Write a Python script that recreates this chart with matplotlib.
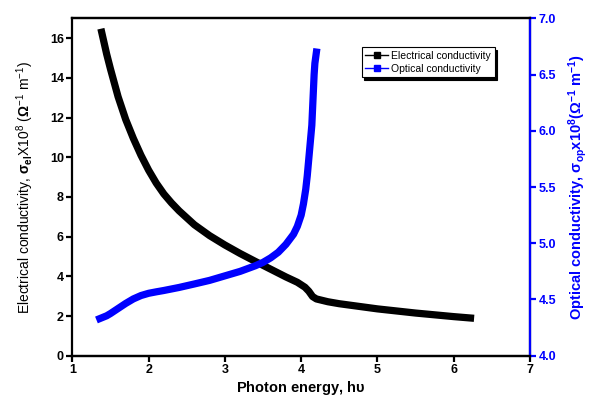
import matplotlib
matplotlib.use('Agg')
import matplotlib.pyplot as plt
from matplotlib.lines import Line2D

plt.rcParams['font.family'] = ['Liberation Sans', 'DejaVu Sans']
plt.rcParams['mathtext.fontset'] = 'custom'
plt.rcParams['mathtext.rm'] = 'Liberation Sans'
plt.rcParams['mathtext.it'] = 'Liberation Sans'
plt.rcParams['mathtext.bf'] = 'Liberation Sans:bold'

# electrical conductivity (left axis)
energy_el = [1.385, 1.45, 1.5, 1.6, 1.7, 1.8, 1.9, 2.0, 2.1, 2.2, 2.3, 2.4, 2.6, 2.8,
             3.0, 3.2, 3.4, 3.6, 3.8, 3.95, 4.05, 4.1, 4.15, 4.2, 4.35, 4.5,
             5.0, 5.5, 6.0, 6.22]
sigma_el = [16.3, 15.2, 14.45, 13.05, 11.9, 10.95, 10.1, 9.35, 8.7, 8.15, 7.7, 7.3, 6.6, 6.05,
            5.58, 5.15, 4.75, 4.36, 3.97, 3.7, 3.45, 3.25, 2.98, 2.86, 2.72, 2.62,
            2.36, 2.15, 1.97, 1.9]

# optical conductivity (right axis)
energy_op = [1.36, 1.45, 1.5, 1.6, 1.7, 1.8, 1.9, 2.0, 2.1, 2.2, 2.4, 2.6, 2.8,
             3.0, 3.2, 3.4, 3.5, 3.6, 3.7, 3.8, 3.9, 3.95, 4.0, 4.03, 4.06,
             4.08, 4.1, 4.12, 4.14, 4.15, 4.16, 4.17, 4.18, 4.19, 4.2]
sigma_op = [4.33, 4.355, 4.375, 4.42, 4.465, 4.505, 4.535, 4.555, 4.568, 4.58, 4.607, 4.638, 4.67,
            4.71, 4.75, 4.80, 4.83, 4.87, 4.92, 4.99, 5.08, 5.15, 5.25, 5.35, 5.48,
            5.6, 5.75, 5.9, 6.05, 6.2, 6.35, 6.5, 6.6, 6.65, 6.7]

fig = plt.figure(figsize=(5.89, 3.99), dpi=100)
ax = fig.add_axes([0.1228, 0.1085, 0.777, 0.8455])
ax2 = ax.twinx()

# dense square markers merge into a thick band, so draw it as a wide line
ax.plot(energy_el, sigma_el, color='black', lw=5.2,
        solid_joinstyle='round', solid_capstyle='projecting', zorder=3)
ax2.plot(energy_op, sigma_op, color='blue', lw=5.2,
         solid_joinstyle='round', solid_capstyle='projecting', zorder=3)

ax.set_xlim(1, 7)
ax.set_ylim(0, 17)
ax2.set_ylim(4, 7)
ax.set_xticks(range(1, 8))
ax.set_yticks(range(0, 17, 2))
ax2.set_yticks([4.0, 4.5, 5.0, 5.5, 6.0, 6.5, 7.0])
ax2.set_yticklabels([f'{v:.1f}' for v in ax2.get_yticks()])

for a in (ax, ax2):
    for s in a.spines.values():
        s.set_linewidth(1.6)
ax2.spines['right'].set_color('blue')
ax2.spines['left'].set_visible(False)

ax.tick_params(axis='both', direction='out', length=4, width=1.6,
               labelsize=9, pad=2)
ax2.tick_params(axis='y', direction='out', length=4, width=1.6,
                labelsize=9, colors='blue', pad=2)
for lab in ax.get_xticklabels() + ax.get_yticklabels() + ax2.get_yticklabels():
    lab.set_fontweight('bold')

ax.set_xlabel(r'Photon energy, h$\mathbf{\upsilon}$', fontsize=10.5,
              fontweight='bold', labelpad=2)
ax.set_ylabel(r'Electrical conductivity, $\mathbf{\sigma}_{\mathbf{el}}$X10$^{8}$ '
              r'($\mathbf{\Omega}^{-1}$ m$^{-1}$)', fontsize=10, labelpad=10)
ax2.set_ylabel(r'Optical conductivity, $\mathbf{\sigma}_{\mathbf{op}}$x10$^{\mathbf{8}}$'
               r'($\mathbf{\Omega}^{\mathbf{-1}}$ m$^{\mathbf{-1}}$)', fontsize=10.5,
               fontweight='bold', color='blue', labelpad=7)

handles = [Line2D([], [], color='black', lw=1, marker='s', ms=5),
           Line2D([], [], color='blue', lw=1, marker='s', ms=5)]
leg = ax2.legend(handles, ['Electrical conductivity', 'Optical conductivity'],
                 loc='upper left', bbox_to_anchor=(0.632, 0.914), borderaxespad=0,
                 fontsize=7.5, fancybox=False, edgecolor='black', framealpha=1,
                 shadow={'color': 'black', 'alpha': 1}, handlelength=2.2,
                 handletextpad=0.3, borderpad=0.35, labelspacing=0.25)
leg.get_frame().set_linewidth(0.8)

fig.savefig('out.png', dpi=100)
